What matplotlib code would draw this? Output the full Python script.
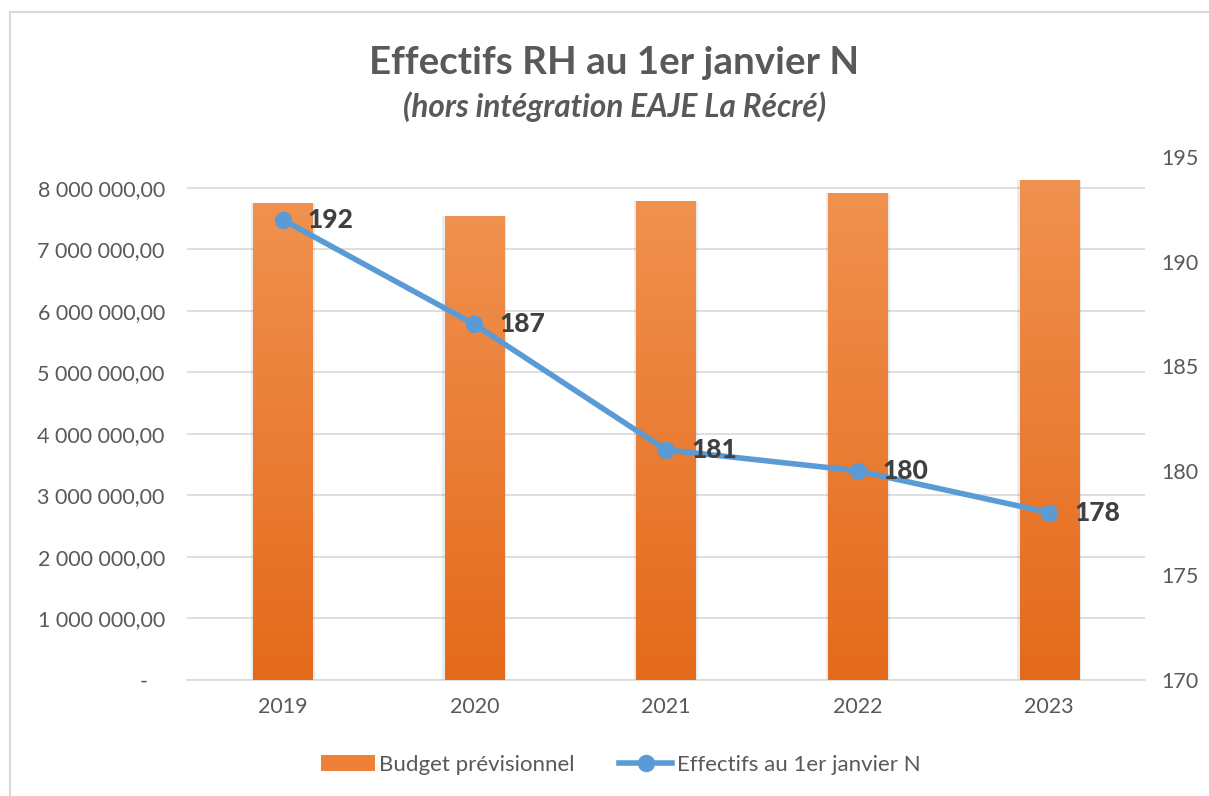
import matplotlib
matplotlib.use("Agg")
import matplotlib.pyplot as plt
import numpy as np
from matplotlib.patches import Rectangle
from matplotlib.lines import Line2D
from matplotlib.colors import LinearSegmentedColormap

years = ["2019", "2020", "2021", "2022", "2023"]
budget = [7756000, 7545000, 7790000, 7920000, 8130000]
effectifs = [192, 187, 181, 180, 178]
left_ticks = [0, 1000000, 2000000, 3000000, 4000000, 5000000, 6000000, 7000000, 8000000]
right_ticks = [170, 175, 180, 185, 190, 195]

plt.rcParams['font.family'] = ['Lato', 'DejaVu Sans']

fig = plt.figure(figsize=(12.09, 7.96), dpi=100)
fig.patch.set_facecolor('white')
# outer frame
fig.add_artist(Rectangle((10/1209, -0.05), 1.2, 1 - 12/796 + 0.05, transform=fig.transFigure,
                         fill=False, edgecolor='#D9D9D9', linewidth=1.5))

ax = fig.add_axes([187/1209, 1 - 680/796, 958/1209, (680 - 157)/796])
ax2 = ax.twinx()
ax.set_zorder(1)
ax2.set_zorder(2)
ax.patch.set_visible(False)
ax2.patch.set_visible(False)

x = np.arange(len(years))
bars = ax.bar(x, budget, width=0.31, color='#EE8136', zorder=3)
cmap = LinearSegmentedColormap.from_list('g', ['#E46A1B', '#F0914F'])
grad = np.linspace(0, 1, 256).reshape(-1, 1)
for b in bars:
    bx, by = b.get_x(), b.get_y()
    bw, bh = b.get_width(), b.get_height()
    ax.add_patch(Rectangle((bx - 0.012, by), bw + 0.024, bh, facecolor='#000000', alpha=0.08,
                           edgecolor='none', zorder=2))
    im = ax.imshow(grad, extent=[bx, bx + bw, by, by + bh], origin='lower', cmap=cmap,
                   aspect='auto', zorder=3.5)
    im.set_clip_path(b)

ax.set_xlim(-0.5, len(years) - 0.5)
ax.set_ylim(0, 8500000)
ax.set_yticks(left_ticks)

def fmt(v):
    if v == 0:
        return '-   '
    s = f"{int(v):,}".replace(',', ' ')
    return s + ',00'

ax.set_yticklabels([fmt(v) for v in left_ticks])
ax.set_xticks(x)
ax.set_xticklabels(years)
ax.grid(axis='y', color='#D9D9D9', linewidth=1.2, zorder=0)
ax.set_axisbelow(True)
for s in ['top', 'right', 'left']:
    ax.spines[s].set_visible(False)
ax.spines['bottom'].set_color('#D9D9D9')
ax.spines['bottom'].set_linewidth(1.2)
ax.tick_params(axis='both', length=0, labelsize=15.5, colors='#595959')
ax.tick_params(axis='y', pad=16)
ax.tick_params(axis='x', pad=12)

ax2.plot(x, effectifs, color='#5B9BD5', linewidth=4, marker='o', markersize=11.5,
         markerfacecolor='#5B9BD5', markeredgecolor='#5B9BD5', solid_capstyle='round', zorder=5)
ax2.set_ylim(170, 195)
ax2.set_yticks(right_ticks)
for s in ['top', 'right', 'left', 'bottom']:
    ax2.spines[s].set_visible(False)
ax2.tick_params(axis='y', length=0, labelsize=15.5, colors='#595959', pad=12)
for xi, v in zip(x, effectifs):
    ax2.annotate(str(v), (xi, v), xytext=(18, 0), textcoords='offset points',
                 ha='left', va='center', fontsize=19, fontweight='black', color='#404040', zorder=6)

fig.text(614/1209, 1 - 63/796, "Effectifs RH au 1er janvier N", ha='center', va='center',
         fontsize=27.7, fontweight='bold', color='#595959')
fig.text(615/1209, 1 - 107/796, "(hors intégration EAJE La Récré)", ha='center', va='center',
         fontsize=22.7, fontweight='bold', style='italic', color='#595959')

handles = [Rectangle((0, 0), 1, 1, facecolor='#EE8136', edgecolor='none'),
           Line2D([0], [0], color='#5B9BD5', linewidth=4, marker='o', markersize=11.5)]
fig.legend(handles, ["Budget prévisionnel", "Effectifs au 1er janvier N"],
           loc='center', bbox_to_anchor=(621/1209, 1 - 765/796), ncol=2, frameon=False,
           fontsize=16, labelcolor='#595959', handlelength=2.4, handletextpad=0.2,
           columnspacing=2.0)

fig.savefig('out.png', dpi=100)
